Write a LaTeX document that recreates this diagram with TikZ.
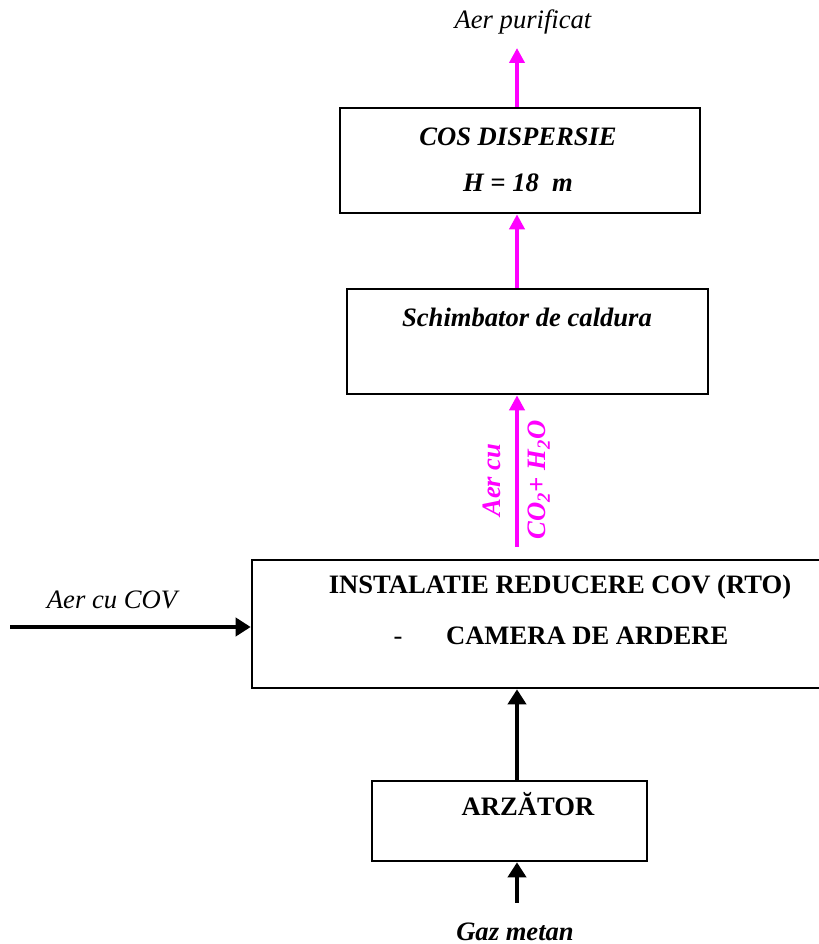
\documentclass[tikz,border=0pt]{standalone}
\usepackage{fontspec}
\setmainfont{Liberation Serif}
\usepackage{xcolor}
\usetikzlibrary{positioning,arrows.meta}

\definecolor{gasmagenta}{RGB}{255,0,255}

\tikzset{
  box/.style={draw,line width=1.3pt,inner sep=0pt},
  gasflow/.style={draw=gasmagenta,line width=2pt,-{Triangle[length=7.5pt,width=7.5pt]}},
  feedflow/.style={draw=black,line width=2pt,-{Triangle[length=7.5pt,width=9pt]}},
  txt/.style={font=\fontsize{13.3}{16}\selectfont}
}

\begin{document}
\begin{tikzpicture}[x=0.5pt,y=0.5pt]
  \useasboundingbox (0,0) rectangle (819,944);
  \coordinate (axis) at (517,0);
  \node[box,minimum width=180pt,minimum height=52.5pt] (cos) at (520,783.5) {};
  \node[txt,font=\fontsize{13.3}{16}\selectfont\bfseries\itshape] (cosname) at (518,807) {COS DISPERSIE};
  \node[txt,font=\fontsize{13.3}{16}\selectfont\bfseries\itshape] (cosh) at (518,761) {H = 18~~m};
  \node[txt,font=\fontsize{13.3}{16}\selectfont\itshape] (out) at (523,922) {Aer purificat};
  \node[box,minimum width=180.5pt,minimum height=52.5pt] (schimb) at (527.5,602.5) {};
  \node[txt,font=\fontsize{13.3}{16}\selectfont\bfseries\itshape] (schimbname) at (527,627) {Schimbator de caldura};
  \node[box,minimum width=289pt,minimum height=64pt] (rto) at (541,320) {};
  \node[txt,font=\fontsize{13.3}{16}\selectfont\bfseries] (rtoname) at (560,357) {INSTALATIE REDUCERE COV (RTO)};
  \node[txt,anchor=base] (dash) at (398,299) {-};
  \node[txt,font=\fontsize{13.3}{16}\selectfont\bfseries,anchor=base west] (camera) at (439,299) {CAMERA DE ARDERE};
  \node[txt,font=\fontsize{13.3}{16}\selectfont\itshape] (cov) at (112,344) {Aer cu COV};
  \node[box,minimum width=137.5pt,minimum height=40pt] (arz) at (509.5,123) {};
  \node[txt,font=\fontsize{13.3}{16}\selectfont\bfseries] (arzname) at (528,140) {ARZĂTOR};
  \node[txt,font=\fontsize{13.3}{16}\selectfont\bfseries\itshape] (gaz) at (515,12) {Gaz metan};
  \node[txt,font=\fontsize{13.3}{16}\selectfont\bfseries\itshape,text=gasmagenta,rotate=90] (aercu) at (492,464) {Aer cu};
  \node[txt,font=\fontsize{13.3}{16}\selectfont\bfseries\itshape,text=gasmagenta,rotate=90] (co2) at (539,464) {CO\textsubscript{2}+ H\textsubscript{2}O};
  \coordinate (covin) at (10,317);
  \coordinate (gasin) at (517,397);
  \coordinate (gazin) at (517,41);
  \coordinate (top) at (517,896);
  \draw[gasflow] (cos.north -| axis) -- (top);
  \draw[gasflow] (schimb.north -| axis) -- (cos.south -| axis);
  \draw[gasflow] (gasin) -- (schimb.south -| axis);
  \draw[feedflow] (covin) -- (rto.west |- covin);
  \draw[feedflow] (arz.north -| axis) -- (rto.south -| axis);
  \draw[feedflow] (gazin) -- (arz.south -| axis);
\end{tikzpicture}
\end{document}
